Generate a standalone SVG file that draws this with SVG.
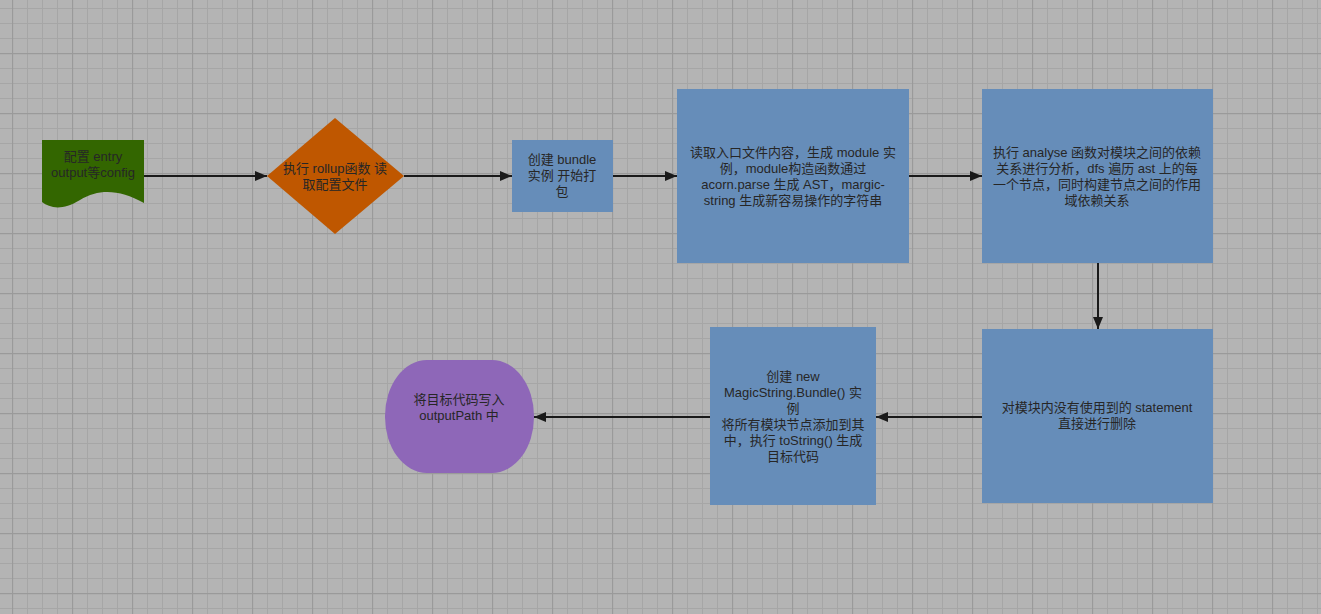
<svg xmlns="http://www.w3.org/2000/svg" width="1321" height="614" viewBox="0 0 1321 614">
<defs>
<pattern id="minor" x="12" y="8" width="15" height="15" patternUnits="userSpaceOnUse">
<path d="M0.5 0V15M0 0.5H15" fill="none" stroke="#a6a6a6" stroke-width="1"/>
</pattern>
<pattern id="major" x="12" y="-7" width="60" height="60" patternUnits="userSpaceOnUse">
<path d="M0.5 0V60M0 0.5H60" fill="none" stroke="#9a9a9a" stroke-width="1.3"/>
</pattern>
<marker id="arr" viewBox="0 0 12 10" refX="12" refY="5" markerWidth="12" markerHeight="10" markerUnits="userSpaceOnUse" orient="auto">
<path d="M0 0L12 5L0 10Z" fill="#1a1a1a"/>
</marker>
</defs>
<style>
.t{font-family:"Liberation Sans","Noto Sans CJK SC",sans-serif;font-size:13px;fill:#262626;text-anchor:middle}
.box{fill:#668db9}
.c{fill:none;stroke:#1a1a1a;stroke-width:2;marker-end:url(#arr)}
</style>
<rect width="1321" height="614" fill="#b4b4b4"/>
<rect width="1321" height="614" fill="url(#minor)"/>
<rect width="1321" height="614" fill="url(#major)"/>
<g id="connectors">
<path class="c" d="M144 176H267"/>
<path class="c" d="M404 176H512"/>
<path class="c" d="M613 176H677"/>
<path class="c" d="M909 176H982"/>
<path class="c" d="M1098 263V329"/>
<path class="c" d="M982 417H876"/>
<path class="c" d="M710 417H534"/>
</g>
<g id="n1">
<path d="M42 140H144V203C120 190 100 188 80 200C62 211 50 208 42 202Z" fill="#336600"/>
<text class="t" x="93" y="161">配置 entry</text>
<text class="t" x="93" y="177">output等config</text>
</g>
<g id="n2">
<path d="M335 118L404 176L335 234L267 176Z" fill="#bf5700"/>
<text class="t" x="335" y="173">执行 rollup函数 读</text>
<text class="t" x="335" y="189">取配置文件</text>
</g>
<g id="n3">
<rect class="box" x="512" y="140" width="101" height="72"/>
<text class="t" x="562" y="164">创建 bundle</text>
<text class="t" x="562" y="180">实例 开始打</text>
<text class="t" x="562" y="196">包</text>
</g>
<g id="n4">
<rect class="box" x="677" y="89" width="232" height="174"/>
<text class="t" x="793" y="157">读取入口文件内容，生成 module 实</text>
<text class="t" x="793" y="173">例，module构造函数通过</text>
<text class="t" x="793" y="189">acorn.parse 生成 AST，margic-</text>
<text class="t" x="793" y="205">string 生成新容易操作的字符串</text>
</g>
<g id="n5">
<rect class="box" x="982" y="89" width="231" height="174"/>
<text class="t" x="1097" y="157">执行 analyse 函数对模块之间的依赖</text>
<text class="t" x="1097" y="173">关系进行分析，dfs 遍历 ast 上的每</text>
<text class="t" x="1097" y="189">一个节点，同时构建节点之间的作用</text>
<text class="t" x="1097" y="205">域依赖关系</text>
</g>
<g id="n6">
<rect class="box" x="982" y="329" width="231" height="174"/>
<text class="t" x="1097" y="412">对模块内没有使用到的 statement</text>
<text class="t" x="1097" y="428">直接进行删除</text>
</g>
<g id="n7">
<rect class="box" x="710" y="327" width="166" height="178"/>
<text class="t" x="793" y="381">创建 new</text>
<text class="t" x="793" y="397">MagicString.Bundle() 实</text>
<text class="t" x="793" y="413">例</text>
<text class="t" x="793" y="429">将所有模块节点添加到其</text>
<text class="t" x="793" y="445">中，执行 toString() 生成</text>
<text class="t" x="793" y="461">目标代码</text>
</g>
<g id="n8">
<rect x="385" y="360" width="149" height="113" rx="42" ry="56" fill="#8e67b8"/>
<text class="t" x="459" y="404">将目标代码写入</text>
<text class="t" x="459" y="420">outputPath 中</text>
</g>
</svg>
